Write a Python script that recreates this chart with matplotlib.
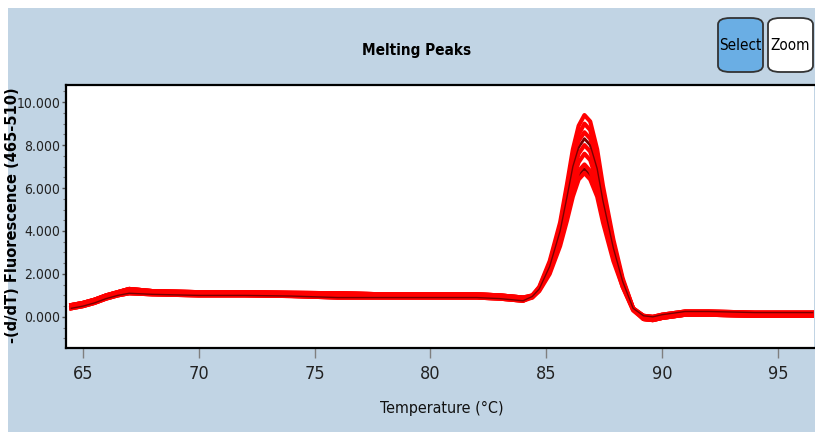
import matplotlib
matplotlib.use("Agg")
import matplotlib.pyplot as plt
from matplotlib.patches import Rectangle, FancyBboxPatch
from matplotlib.ticker import MultipleLocator, FormatStrFormatter
from matplotlib import font_manager

# temperatures shared by all curves (deg C)
temps = [64.5, 65.0, 65.5, 66.0, 66.5, 67.0, 68.0, 70.0, 72.0, 74.0, 76.0, 78.0,
         80.0, 82.0, 83.0, 83.5, 84.0,
         84.4, 84.7, 85.15, 85.6, 85.9, 86.15, 86.4, 86.65, 86.9, 87.2, 87.45,
         87.9, 88.3, 88.75,
         89.2, 89.6, 90.0, 91.0, 92.0, 94.0, 96.5]

# baseline before the peak (64.5 .. 84.0)
base_hi = [0.55, 0.65, 0.8, 1.0, 1.15, 1.3, 1.2, 1.15, 1.15, 1.12, 1.1, 1.05,
           1.05, 1.05, 1.0, 0.95, 0.9]
base_lo = [0.4, 0.5, 0.65, 0.85, 1.0, 1.1, 1.05, 1.0, 1.0, 0.97, 0.9, 0.9,
           0.9, 0.9, 0.85, 0.8, 0.75]

# peak region (84.4 .. 88.75), one list per sample
peaks_red = [
    [1.0, 1.4, 2.6, 4.4, 6.2, 7.8, 8.9, 9.4, 9.1, 7.8, 6.1, 3.6, 1.8, 0.4],
    [1.0, 1.35, 2.5, 4.2, 6.0, 7.5, 8.5, 9.0, 8.7, 7.4, 5.8, 3.4, 1.7, 0.4],
    [1.0, 1.35, 2.4, 4.1, 5.8, 7.2, 8.2, 8.6, 8.3, 7.1, 5.6, 3.3, 1.7, 0.4],
    [0.95, 1.3, 2.3, 3.9, 5.4, 6.7, 7.6, 8.0, 7.7, 6.6, 5.2, 3.1, 1.6, 0.4],
    [0.95, 1.3, 2.2, 3.7, 5.1, 6.4, 7.2, 7.6, 7.3, 6.3, 4.9, 2.9, 1.5, 0.35],
    [0.9, 1.25, 2.1, 3.5, 4.8, 6.0, 6.8, 7.1, 6.8, 5.9, 4.6, 2.8, 1.4, 0.35],
    [0.9, 1.2, 2.0, 3.3, 4.5, 5.6, 6.4, 6.7, 6.4, 5.6, 4.4, 2.6, 1.4, 0.3],
]
peaks_dark = [
    [0.95, 1.3, 2.35, 4.0, 5.6, 7.0, 7.9, 8.3, 8.0, 6.9, 5.4, 3.2, 1.65, 0.4],
    [0.9, 1.2, 2.05, 3.4, 4.7, 5.8, 6.6, 6.9, 6.6, 5.7, 4.5, 2.7, 1.4, 0.3],
]

# tail after the peak (89.2 .. 96.5)
tail_hi = [0.05, 0.0, 0.1, 0.25, 0.25, 0.2, 0.2]
tail_lo = [-0.1, -0.15, -0.05, 0.1, 0.1, 0.05, 0.05]

xticks = [65, 70, 75, 80, 85, 90, 95]
yticks = [0, 2, 4, 6, 8, 10]


def pick_font(bold):
    # look for a narrow sans face, the chart uses a condensed font
    rank = {"extra-condensed": 0, "ultra-condensed": 1, "condensed": 2, "semi-condensed": 3}
    best, best_key = None, None
    for f in font_manager.fontManager.ttflist:
        st = str(f.stretch).lower()
        nm = f.name.lower()
        if st not in rank and "condensed" not in nm and "narrow" not in nm:
            continue
        if str(f.style) != "normal":
            continue
        w = f.weight if isinstance(f.weight, int) else font_manager.weight_dict.get(f.weight, 400)
        want = 700 if bold else 400
        fam = 0 if "noto sans" in nm else (1 if "dejavu" in nm else 2)
        key = (abs(w - want), rank.get(st, 2), fam)
        if best_key is None or key < best_key:
            best, best_key = f.fname, key
    return best


reg_file = pick_font(False)
bold_file = pick_font(True)


def fp(size, bold=False):
    fn = bold_file if bold else reg_file
    if fn:
        return font_manager.FontProperties(fname=fn, size=size)
    return font_manager.FontProperties(family="DejaVu Sans", size=size,
                                       weight="bold" if bold else "normal")


W, H = 815, 432
fig = plt.figure(figsize=(W / 100, H / 100), dpi=100)
fig.patch.set_facecolor("white")
panel_col = "#C1D4E4"
fig.add_artist(Rectangle((8 / W, 0), 1 - 8 / W, 1 - 8 / H, transform=fig.transFigure,
                         facecolor=panel_col, edgecolor="none", zorder=0))

ax = fig.add_axes([66 / W, 1 - 348 / H, (814 - 66) / W, (348 - 85) / H])
ax.set_facecolor("white")

for pk in peaks_dark:
    ax.plot(temps, base_lo + pk + tail_hi, color="#7A0000", lw=2.0, zorder=2)
for i, pk in enumerate(peaks_red):
    base = base_hi if i % 2 == 0 else base_lo
    tail = tail_lo if i % 2 == 0 else tail_hi
    ax.plot(temps, base + pk + tail, color="#FF0000", lw=3.0, zorder=3)
for pk in peaks_dark[:1]:
    ax.plot(temps, base_lo + pk + tail_hi, color="#7A0000", lw=1.0, zorder=4)

ax.set_xlim(64.27, 96.56)
ax.set_ylim(-1.45, 10.8)
ax.set_xticks(xticks)
ax.set_yticks(yticks)
ax.yaxis.set_minor_locator(MultipleLocator(0.5))
ax.yaxis.set_major_formatter(FormatStrFormatter("%.3f"))

for s in ax.spines.values():
    s.set_color("black")
    s.set_linewidth(1.6)
ax.spines["right"].set_visible(False)

ax.tick_params(axis="x", direction="out", length=7, width=1, color="#7f7f7f",
               pad=5, labelcolor="#222222")
ax.tick_params(axis="y", which="major", direction="out", length=3, width=1,
               color="#555555", pad=1, labelcolor="#222222")
ax.tick_params(axis="y", which="minor", direction="out", length=2, width=0.8,
               color="#777777")
for lab in ax.get_xticklabels():
    lab.set_fontproperties(fp(13))
for lab in ax.get_yticklabels():
    lab.set_fontproperties(fp(10))

fig.text(417 / W, 1 - 50 / H, "Melting Peaks", ha="center", va="center",
         fontproperties=fp(11, bold=True))
fig.text(442 / W, 1 - 408 / H, "Temperature (°C)", ha="center", va="center",
         fontproperties=fp(11.5), color="#111111")
fig.text(13 / W, 1 - 215 / H, "-(d/dT) Fluorescence (465-510)", rotation=90,
         ha="center", va="center", fontsize=10.5, fontweight="bold",
         family="DejaVu Sans")

# buttons in the top right corner
for x0, x1, label, fc in [(718, 763, "Select", "#6AAEE4"), (768, 813, "Zoom", "white")]:
    fig.add_artist(FancyBboxPatch((x0 / W, 1 - 72 / H), (x1 - x0) / W, (72 - 18) / H,
                                  boxstyle="round,pad=0,rounding_size=0.015",
                                  transform=fig.transFigure, facecolor=fc,
                                  edgecolor="#333333", linewidth=1.3, zorder=1))
    fig.text((x0 + x1) / 2 / W, 1 - 45 / H, label, ha="center", va="center",
             fontproperties=fp(11), color="black")

fig.savefig("out.png", dpi=100, facecolor=fig.get_facecolor())
